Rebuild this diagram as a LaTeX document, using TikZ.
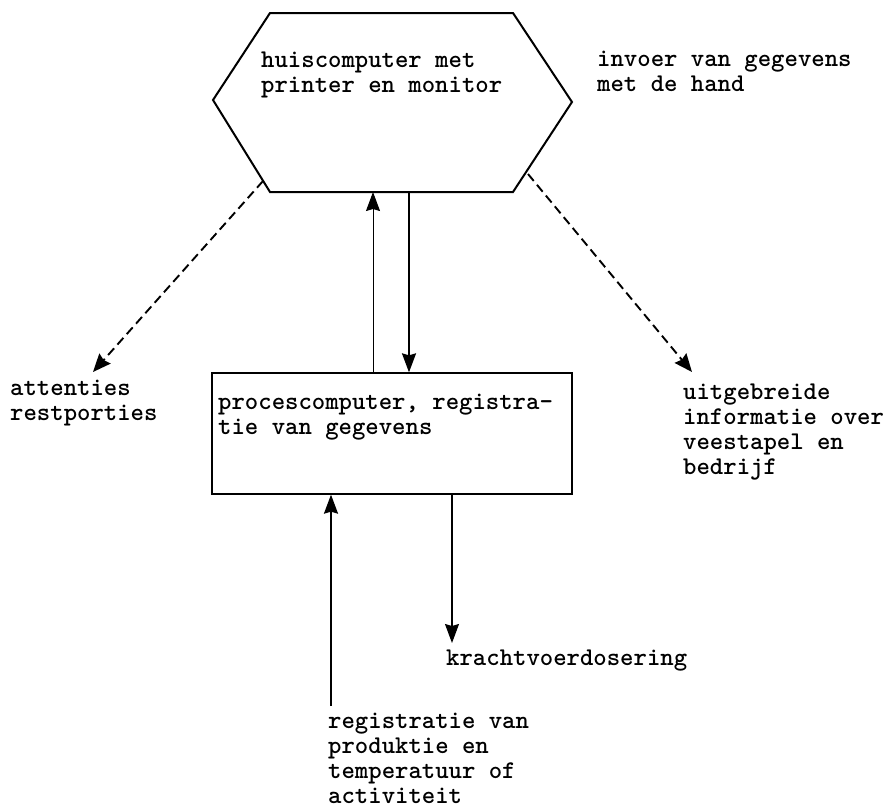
\documentclass[tikz,border=0pt]{standalone}
\usetikzlibrary{arrows.meta}
\begin{document}
\begin{tikzpicture}[x=1pt,y=-1pt,
  txt/.style={inner sep=0pt,anchor=base west,align=left,
    font=\ttfamily\bfseries\fontsize{25.5}{25}\selectfont},
  arr/.style={line width=1.4pt,-{Stealth[length=19pt,width=14pt,inset=2pt]}},
  dsh/.style={line width=1.9pt,dash pattern=on 9pt off 5pt,
    -{Stealth[length=18pt,width=15pt,inset=2pt]}},
  boxstyle/.style={draw,line width=1.3pt,minimum width=360pt,minimum height=121pt,inner sep=0pt}]
\useasboundingbox (0,0) rectangle (894,809);

% hexagon: home computer
\coordinate (h1) at (270,13);
\coordinate (h2) at (513,13);
\coordinate (h3) at (572,102);
\coordinate (h4) at (513,192);
\coordinate (h5) at (270,192);
\coordinate (h6) at (213,100);
\draw[line width=2pt,line join=miter] (h1) -- (h2) -- (h3) -- (h4) -- (h5) -- (h6) -- cycle;
% multi-line labels are placed by the baseline of their last line
\node[txt] (home) at (261,92) {huiscomputer met\\printer en monitor};

% rectangle: process computer
\node[boxstyle] (proc) at (392,433.5) {};
\node[txt] (proctxt) at (218,434) {procescomputer, registra-\\tie van gegevens};

% side labels
\node[txt] (invoer) at (597,91) {invoer van gegevens\\met de hand};
\node[txt] (att) at (10,420) {attenties\\restporties};
\node[txt] (info) at (683,474) {uitgebreide\\informatie over\\veestapel en\\bedrijf};
\node[txt] (kracht) at (446,665) {krachtvoerdosering};
\node[txt] (reg) at (328,803) {registratie van\\produktie en\\temperatuur of\\activiteit};

% connectors between the two computers
\coordinate (upx) at (373,0);
\coordinate (dnx) at (409,0);
\draw[arr,line width=1pt] (proc.north -| upx) -- (h5 -| upx);
\draw[arr,line width=1.8pt] (h5 -| dnx) -- (proc.north -| dnx);

% dashed outputs of the home computer
\coordinate (lstart) at (263,181);
\coordinate (ltip) at (93,372);
\coordinate (rstart) at (528,174);
\coordinate (rtip) at (692,372);
\draw[dsh] (lstart) -- (ltip);
\draw[dsh] (rstart) -- (rtip);

% inputs and outputs of the process computer
\coordinate (regtop) at (331,706);
\coordinate (krx) at (452,0);
\coordinate (krtip) at (452,643);
\draw[arr,line width=1.6pt] (regtop) -- (proc.south -| regtop);
\draw[arr,line width=1.2pt] (proc.south -| krx) -- (krtip);
\end{tikzpicture}
\end{document}
